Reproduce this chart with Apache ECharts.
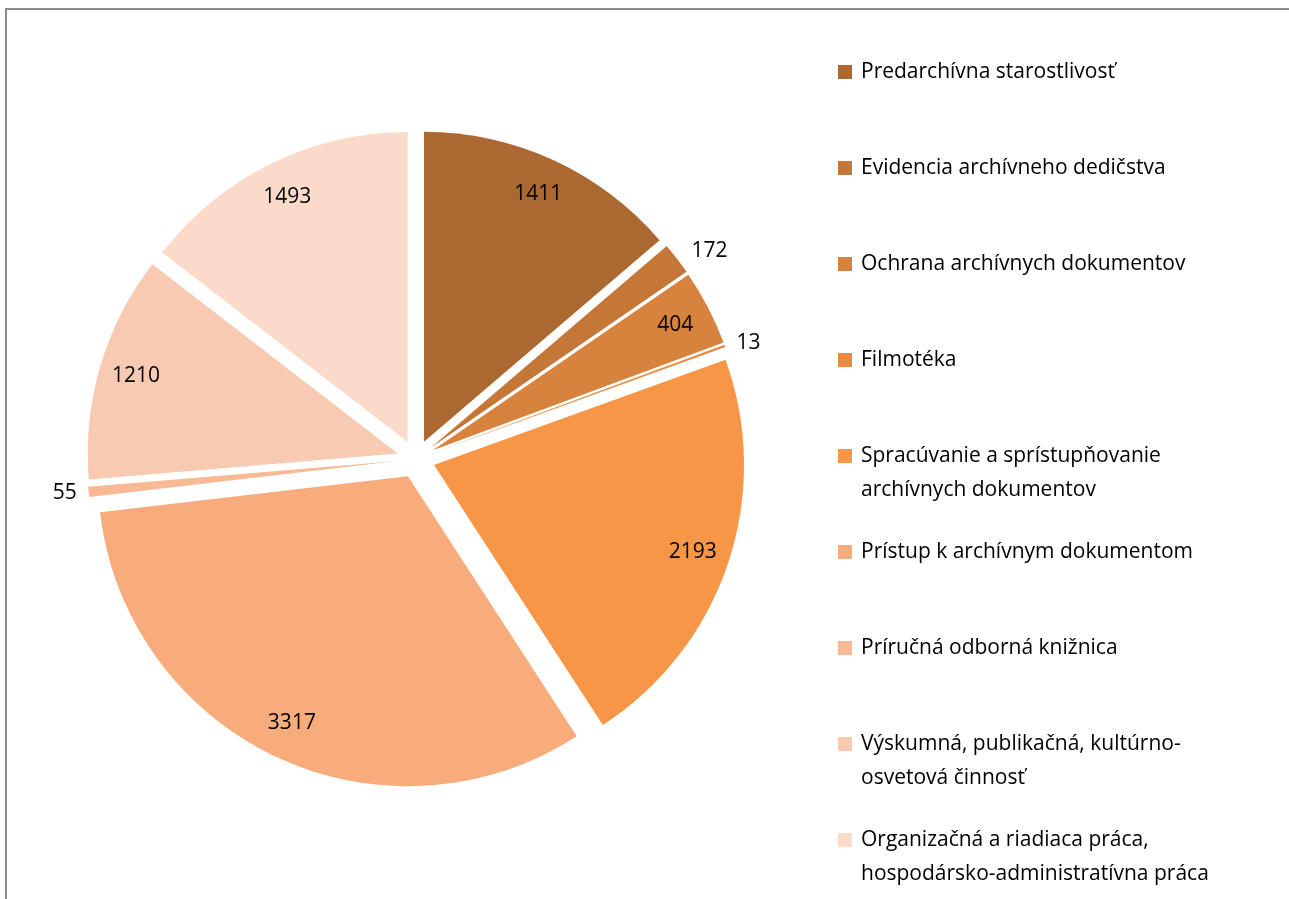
<!DOCTYPE html>
<html>
<head>
<meta charset="utf-8">
<script src="https://cdn.jsdelivr.net/npm/echarts@6/dist/echarts.min.js"></script>
<style>
html, body { margin: 0; padding: 0; background: #fff; }
#chart { width: 1289px; height: 899px; }
</style>
</head>
<body>
<div id="chart"></div>
<script>
// kategórie (\n = zalomenie v legende)
var categories = [
	'Predarchívna starostlivosť',
	'Evidencia archívneho dedičstva',
	'Ochrana archívnych dokumentov',
	'Filmotéka',
	'Spracúvanie a sprístupňovanie\narchívnych dokumentov',
	'Prístup k archívnym dokumentom',
	'Príručná odborná knižnica',
	'Výskumná, publikačná, kultúrno-\nosvetová činnosť',
	'Organizačná a riadiaca práca,\nhospodársko-administratívna práca'
];
var values = [1411, 172, 404, 13, 2193, 3317, 55, 1210, 1493];
var colors = ['#AB6830', '#C47737', '#D7833D', '#E88B41', '#F79646', '#F8AB7B', '#F9B994', '#F9CAB2', '#FBDACA'];

// malé výseky majú popis mimo koláča (dĺžka odsadenia)
var outsideLabel = { 1: 12, 3: 7, 6: 7 };

var FONT = '"Open Sans", sans-serif';
var LINE = 34;

var myChart = echarts.init(document.getElementById('chart'));

var pieData = categories.map(function(name, i) {
	return { name: name, value: values[i], selected: true };
});

// druhá (priehľadná) séria len kvôli polohe popisov
var labelData = categories.map(function(name, i) {
	var item = { name: name, value: values[i], selected: true };
	if (outsideLabel[i] !== undefined) {
		item.label = { position: 'outside' };
		item.labelLine = { show: false, length: outsideLabel[i], length2: 0 };
	}
	return item;
});

var option = {
	animation: false,
	color: colors,
	graphic: [
		{ type: 'line', shape: { x1: 5, y1: 9, x2: 1289, y2: 9 }, style: { stroke: '#8c8c8c', lineWidth: 2 } },
		{ type: 'line', shape: { x1: 6, y1: 8, x2: 6, y2: 899 }, style: { stroke: '#8c8c8c', lineWidth: 2 } }
	],
	legend: {
		orient: 'vertical',
		left: 838,
		top: 21,
		padding: 0,
		itemGap: -6,
		itemWidth: 14,
		itemHeight: 14,
		icon: 'rect',
		selectedMode: false,
		itemStyle: { borderWidth: 0 },
		// každá položka má 3 riadky, aby ikona sedela pri prvom riadku textu
		formatter: function(name) {
			return name.indexOf('\n') >= 0 ? '\n' + name : '\n' + name + '\n';
		},
		textStyle: { fontFamily: FONT, fontSize: 21, color: '#000', lineHeight: LINE, padding: [ 0, 0, 0, 4 ] },
		data: categories
	},
	series: [
		{
			name: 'data',
			type: 'pie',
			center: [ 416, 459 ],
			radius: [ 0, 310 ],
			startAngle: 90,
			clockwise: true,
			selectedMode: 'multiple',
			selectedOffset: 19,
			avoidLabelOverlap: false,
			itemStyle: { borderWidth: 0 },
			label: { show: false },
			labelLine: { show: false },
			emphasis: { disabled: true },
			select: { itemStyle: { borderWidth: 0 } },
			data: pieData
		},
		{
			name: 'labels',
			type: 'pie',
			center: [ 416, 459 ],
			radius: [ 230, 310 ],
			startAngle: 90,
			clockwise: true,
			silent: true,
			selectedMode: 'multiple',
			selectedOffset: 19,
			avoidLabelOverlap: false,
			itemStyle: { color: 'rgba(0,0,0,0)', borderWidth: 0 },
			label: {
				show: true,
				position: 'inside',
				formatter: '{c}',
				fontFamily: FONT,
				fontSize: 21,
				color: '#000'
			},
			labelLine: { show: false },
			emphasis: { disabled: true },
			select: { itemStyle: { color: 'rgba(0,0,0,0)', borderWidth: 0 } },
			data: labelData
		}
	]
};
myChart.setOption(option);
</script>
</body>
</html>
